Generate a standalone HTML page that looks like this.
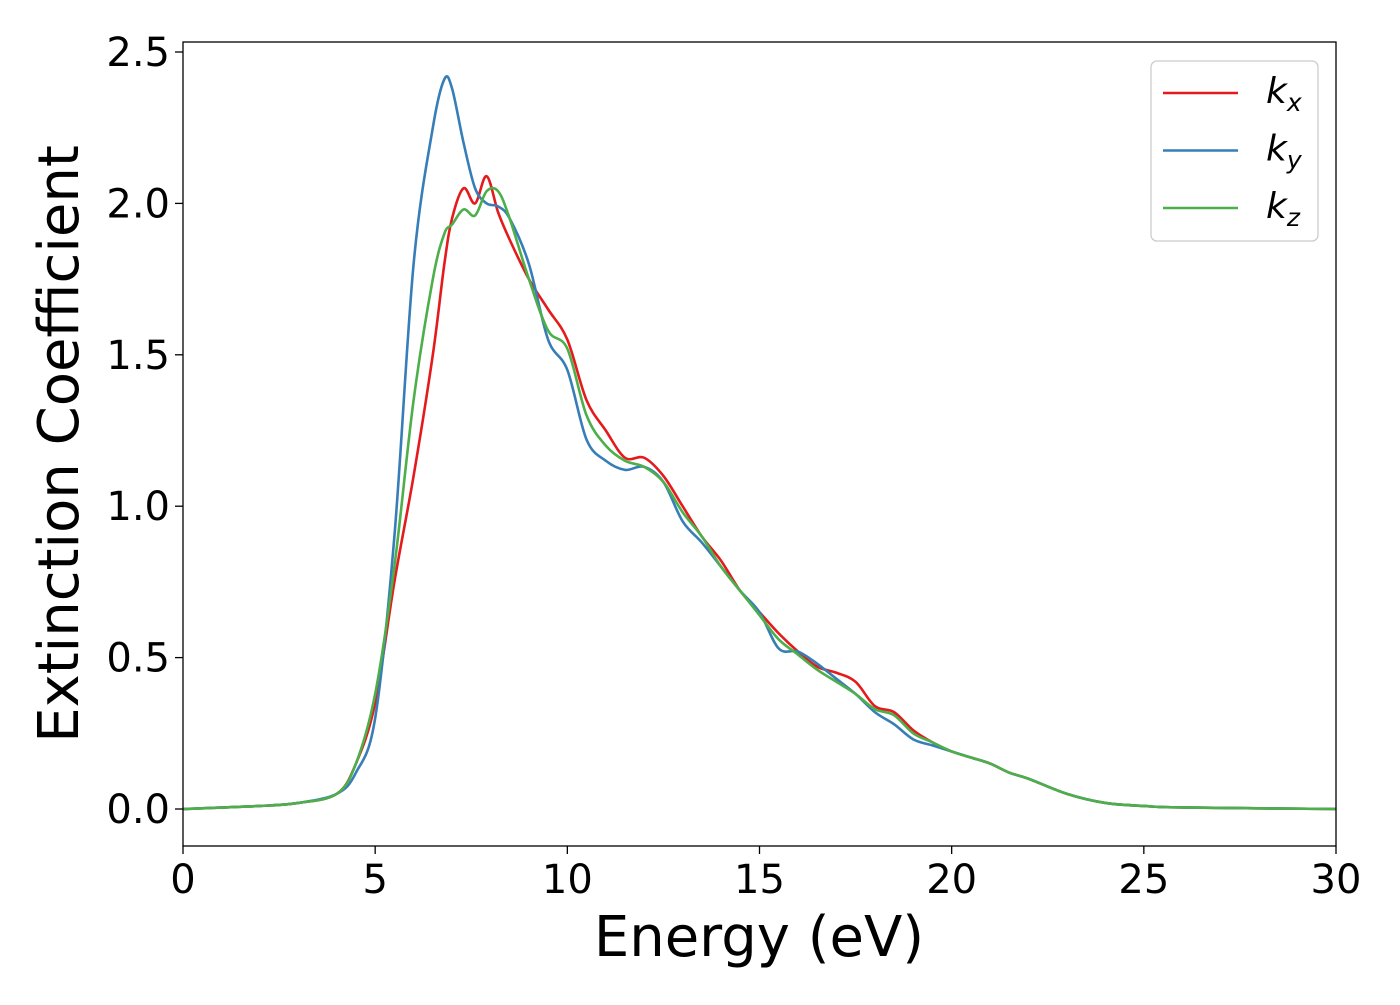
<!DOCTYPE html>
<html><head><meta charset="utf-8"><style>
body{margin:0;background:#fff;}
svg text{font-family:"DejaVu Sans","Liberation Sans",sans-serif;fill:#000;}
</style></head><body>
<svg id="chart" width="1400" height="1000" xmlns="http://www.w3.org/2000/svg">
<rect width="1400" height="1000" fill="#fff"/>
<g id="lines"></g>
<rect x="183" y="42" width="1153" height="804" fill="none" stroke="#000" stroke-width="1.3"/>
<g id="xt"></g>
<g id="yt"></g>
<text x="759" y="956" font-size="56" text-anchor="middle">Energy (eV)</text>
<text transform="translate(78,444) rotate(-90)" font-size="56" text-anchor="middle">Extinction Coefficient</text>
<g>
<rect x="1151" y="61" width="167" height="180" rx="6" fill="#fff" stroke="#ccc" stroke-width="1.3"/>
<g id="leg"></g>
</g>
</svg>
<script>
const xTicks=[0,5,10,15,20,25,30];
const yTicks=[0.0,0.5,1.0,1.5,2.0,2.5];
const energy=[0,2,3,4,4.5,5,5.5,6,6.5,6.8,7,7.3,7.6,7.9,8.2,8.5,9,9.5,10,10.5,11,11.5,12,12.5,13,13.5,14,14.5,15,15.5,16,16.5,17,17.5,18,18.5,19,19.5,20,20.5,21,21.5,22,23,24,25,26,30];
const kx=[0,0.01,0.02,0.05,0.15,0.35,0.75,1.1,1.5,1.8,1.95,2.05,2.0,2.09,1.97,1.88,1.75,1.65,1.55,1.35,1.25,1.16,1.16,1.1,1.0,0.9,0.82,0.72,0.65,0.58,0.52,0.47,0.45,0.42,0.34,0.32,0.26,0.22,0.19,0.17,0.15,0.12,0.1,0.05,0.02,0.01,0.005,0];
const ky=[0,0.01,0.02,0.05,0.12,0.3,0.9,1.8,2.25,2.41,2.38,2.2,2.05,2.0,1.99,1.95,1.8,1.55,1.45,1.22,1.15,1.12,1.13,1.08,0.95,0.88,0.8,0.72,0.65,0.53,0.52,0.48,0.43,0.38,0.32,0.28,0.23,0.21,0.19,0.17,0.15,0.12,0.1,0.05,0.02,0.01,0.005,0];
const kz=[0,0.01,0.02,0.05,0.15,0.38,0.8,1.35,1.75,1.9,1.93,1.98,1.96,2.04,2.04,1.95,1.75,1.58,1.52,1.3,1.2,1.15,1.13,1.08,0.98,0.9,0.8,0.72,0.64,0.56,0.51,0.46,0.42,0.38,0.33,0.31,0.25,0.22,0.19,0.17,0.15,0.12,0.1,0.05,0.02,0.01,0.005,0];
const names=["k_x","k_y","k_z"];
const NS="http://www.w3.org/2000/svg";
const X=v=>183+v*(1153/30), Y=v=>809-v*302.8;
function mk(t,a,p){const e=document.createElementNS(NS,t);for(const k in a)e.setAttribute(k,a[k]);p.appendChild(e);return e;}
const xt=document.getElementById('xt'), yt=document.getElementById('yt');
xTicks.forEach(v=>{
 const l=mk('line',{x1:X(v),x2:X(v),y1:846,y2:854,stroke:'#000','stroke-width':1.3},xt);
 
 
 const t=mk('text',{x:X(v),y:893,'font-size':40,'text-anchor':'middle'},xt);t.textContent=v;
 
 
});
yTicks.forEach(v=>{
 const l=mk('line',{x1:175,x2:183,y1:Y(v),y2:Y(v),stroke:'#000','stroke-width':1.3},yt);
 
 
 const t=mk('text',{x:170,y:Y(v)+14,'font-size':40,'text-anchor':'end'},yt);t.textContent=v.toFixed(1);
 
 
});
function path(ys){
 const p=energy.map((e,i)=>[X(e),Y(ys[i])]);
 let d='M'+p[0][0]+','+p[0][1];
 for(let i=0;i<p.length-1;i++){
  const p0=p[Math.max(0,i-1)],p1=p[i],p2=p[i+1],p3=p[Math.min(p.length-1,i+2)];
  const c1=[p1[0]+(p2[0]-p0[0])/6,p1[1]+(p2[1]-p0[1])/6];
  const c2=[p2[0]-(p3[0]-p1[0])/6,p2[1]-(p3[1]-p1[1])/6];
  d+=` C${c1[0]},${c1[1]} ${c2[0]},${c2[1]} ${p2[0]},${p2[1]}`;
 }
 return d;
}
const g=document.getElementById('lines'), leg=document.getElementById('leg');
const series=[[kx,'#e41a1c','x'],[ky,'#377eb8','y'],[kz,'#4daf4a','z']];
series.forEach((s,i)=>{
 const p=mk('path',{d:path(s[0]),fill:'none',stroke:s[1],'stroke-width':2.6},g);
 
 
 const yy=93+i*57.5;
 const l=mk('line',{x1:1163,x2:1238,y1:yy,y2:yy,stroke:s[1],'stroke-width':2.6},leg);
 
 
 const t=mk('text',{x:1266,y:yy+10,'font-size':36,'font-style':'italic'},leg);
 
 
 t.textContent='k';
 const ts=mk('tspan',{'font-size':25,dy:8},t);ts.textContent=s[2];
});
</script>
</body></html>
